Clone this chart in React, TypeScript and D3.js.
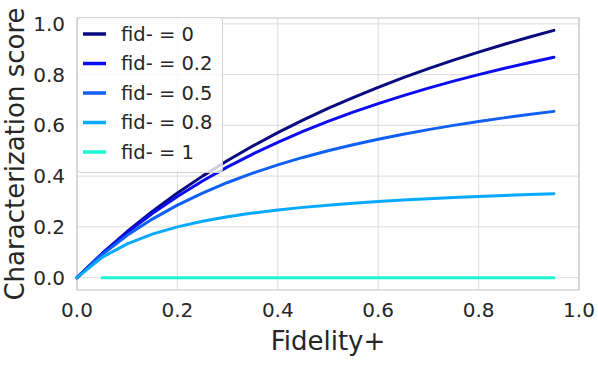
import React from "react";
import * as d3 from "d3";

const fidPlus = [0, 0.05, 0.1, 0.15, 0.2, 0.25, 0.3, 0.35, 0.4, 0.45, 0.5, 0.55, 0.6, 0.65, 0.7, 0.75, 0.8, 0.85, 0.9, 0.95];

const seriesLabels = ["fid- = 0", "fid- = 0.2", "fid- = 0.5", "fid- = 0.8", "fid- = 1"];
const seriesColors = ["#0a0a80", "#0c0cf0", "#1060f5", "#05aaff", "#1ef5d3"];

const s0 = [0, 0.0952, 0.1818, 0.2609, 0.3333, 0.4, 0.4615, 0.5185, 0.5714, 0.6207, 0.6667, 0.7097, 0.75, 0.7879, 0.8235, 0.8571, 0.8889, 0.9189, 0.9474, 0.9744];
const s02 = [0, 0.0941, 0.1778, 0.2526, 0.32, 0.381, 0.4364, 0.487, 0.5333, 0.576, 0.6154, 0.6519, 0.6857, 0.7172, 0.7467, 0.7742, 0.8, 0.8242, 0.8471, 0.8686];
const s05 = [0, 0.0909, 0.1667, 0.2308, 0.2857, 0.3333, 0.375, 0.4118, 0.4444, 0.4737, 0.5, 0.5238, 0.5455, 0.5652, 0.5833, 0.6, 0.6154, 0.6296, 0.6429, 0.6552];
const s08 = [0, 0.08, 0.1333, 0.1714, 0.2, 0.2222, 0.24, 0.2545, 0.2667, 0.2769, 0.2857, 0.2933, 0.3, 0.3059, 0.3111, 0.3158, 0.32, 0.3238, 0.3273, 0.3304];
const s1: (number | null)[] = [null, 0, 0, 0, 0, 0, 0, 0, 0, 0, 0, 0, 0, 0, 0, 0, 0, 0, 0, 0];

const seriesValues: (number | null)[][] = [s0, s02, s05, s08, s1];

const xTicks = [0, 0.2, 0.4, 0.6, 0.8, 1.0];
const yTicks = [0, 0.2, 0.4, 0.6, 0.8, 1.0];

const W = 598;
const H = 367;
const font = "'DejaVu Sans', sans-serif";

export default function App() {
  const x = d3.scaleLinear().domain([0, 1]).range([77, 579]);
  const y = d3.scaleLinear().domain([-0.0487, 1.0231]).range([290, 18]);
  const [x0, x1] = x.range();
  const [yb, yt] = y.range();

  const line = d3
    .line<[number, number | null]>()
    .defined((d) => d[1] !== null)
    .x((d) => x(d[0]))
    .y((d) => y(d[1] as number));

  const legendX = 77.5;
  const legendY = 17.5;
  const legendRowY0 = 34;
  const legendStep = 29.5;

  return (
    <svg
      width={W}
      height={H}
      style={{ position: "absolute", left: 0, top: 0, background: "#fff" }}
      fontFamily={font}
    >
      <rect x={0} y={0} width={W} height={H} fill="#fff" />
      {/* grid */}
      {xTicks.map((t) => (
        <line key={"gx" + t} x1={x(t)} x2={x(t)} y1={yt} y2={yb} stroke="#dcdcdc" strokeWidth={1} />
      ))}
      {yTicks.map((t) => (
        <line key={"gy" + t} x1={x0} x2={x1} y1={y(t)} y2={y(t)} stroke="#dcdcdc" strokeWidth={1} />
      ))}
      {/* spines */}
      <rect x={x0} y={yt} width={x1 - x0} height={yb - yt} fill="none" stroke="#cccccc" strokeWidth={1.25} />
      {/* lines */}
      {seriesValues.map((vals, i) => (
        <path
          key={"s" + i}
          d={line(fidPlus.map((fx, j) => [fx, vals[j]] as [number, number | null])) || ""}
          fill="none"
          stroke={seriesColors[i]}
          strokeWidth={3}
          strokeLinecap="round"
          strokeLinejoin="round"
        />
      ))}
      {/* tick labels */}
      {xTicks.map((t) => (
        <text key={"tx" + t} x={x(t)} y={317} textAnchor="middle" fontSize={20} fill="#262626">
          {t.toFixed(1)}
        </text>
      ))}
      {yTicks.map((t) => (
        <text key={"ty" + t} x={65} y={y(t)} dy="0.35em" textAnchor="end" fontSize={20} fill="#262626">
          {t.toFixed(1)}
        </text>
      ))}
      {/* axis labels */}
      <text x={(x0 + x1) / 2} y={350} textAnchor="middle" fontSize={26} fill="#262626">
        Fidelity+
      </text>
      <text
        transform={`translate(24, ${(yt + yb) / 2}) rotate(-90)`}
        textAnchor="middle"
        fontSize={26}
        fill="#262626"
      >
        Characterization score
      </text>
      {/* legend */}
      <rect
        x={legendX}
        y={legendY}
        width={145}
        height={155}
        rx={3}
        fill="#ffffff"
        fillOpacity={0.8}
        stroke="#d0d0d0"
        strokeWidth={1}
      />
      {seriesLabels.map((lab, i) => {
        const cy = legendRowY0 + i * legendStep;
        return (
          <g key={"lg" + i}>
            <line x1={83} x2={106} y1={cy} y2={cy} stroke={seriesColors[i]} strokeWidth={3.5} />
            <text x={121} y={cy} dy="0.35em" fontSize={19.5} fill="#262626">
              {lab}
            </text>
          </g>
        );
      })}
    </svg>
  );
}
